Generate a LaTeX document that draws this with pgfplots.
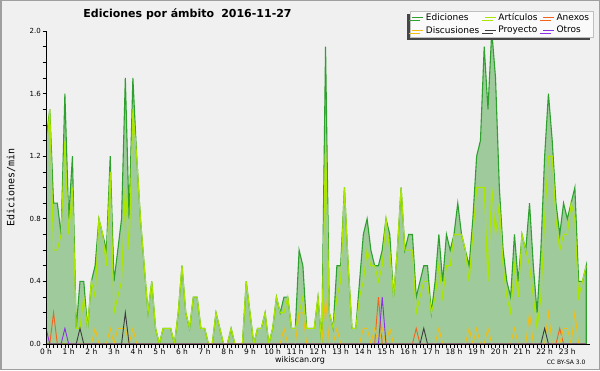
\documentclass[border=0pt]{standalone}
\usepackage{pgfplots}
\pgfplotsset{compat=1.18}
\usepackage{pgfplotstable}
\usepackage{fontspec}
\setmainfont{DejaVu Sans}
\newfontfamily\monofont{DejaVu Sans Mono}
\usetikzlibrary{shadows}
\definecolor{figbg}{RGB}{240,240,240}
\definecolor{plotbg}{RGB}{236,238,240}
\definecolor{gridc}{RGB}{200,200,200}
\definecolor{edfill}{RGB}{80,166,72}
\definecolor{edline}{RGB}{45,160,45}
\definecolor{artline}{RGB}{170,230,0}
\definecolor{discol}{RGB}{240,190,20}
\definecolor{anxcol}{RGB}{240,100,30}
\definecolor{procol}{RGB}{60,60,60}
\definecolor{otrcol}{RGB}{140,50,230}
\pgfplotsset{
  layers/linesontop/.define layer set={
    axis background,axis grid,main,axis ticks,axis lines,axis tick labels,axis descriptions,axis foreground
  }{/pgfplots/layers/standard},
}
\pgfplotstableread{
i ed art anx dis pro otr
0 1.3 1.2 0 0 0 0.1
1 1.5 1.5 0 0 0 0
2 0.9 0.6 0.2 0 0 0
3 0.9 0.6 0 0 0 0
4 0.7 0.7 0 0 0 0
5 1.6 1.3 0 0 0 0.1
6 0.8 0.7 0 0 0 0
7 1.2 1.0 0 0 0 0
8 0.1 0.1 0 0 0 0
9 0.4 0.1 0 0 0.1 0
10 0.4 0.3 0 0 0 0
11 0.1 0.1 0 0 0 0
12 0.4 0.4 0 0 0 0
13 0.5 0.3 0 0.1 0 0
14 0.8 0.8 0 0 0 0
15 0.7 0.7 0 0 0 0
16 0.6 0.5 0 0 0 0
17 1.2 1.1 0 0.1 0 0
18 0.4 0.2 0 0 0 0
19 0.6 0.3 0 0.1 0 0
20 0.8 0.4 0 0.1 0 0
21 1.7 1.0 0 0.1 0.2 0
22 0.8 0.6 0 0 0 0
23 1.7 1.5 0 0.1 0 0
24 1.2 1.2 0 0 0 0
25 0.8 0.8 0 0 0 0
26 0.5 0.5 0 0 0 0
27 0.2 0.2 0 0 0 0
28 0.4 0.4 0 0 0 0
29 0.1 0.1 0 0 0 0
30 0 0 0 0 0 0
31 0.1 0.1 0 0 0 0
32 0.1 0.1 0 0 0 0
33 0.1 0.1 0 0 0 0
34 0 0 0 0 0 0
35 0.2 0.2 0 0 0 0
36 0.5 0.5 0 0 0 0
37 0.2 0.2 0 0 0 0
38 0.1 0.1 0 0 0 0
39 0.3 0.3 0 0 0 0
40 0.3 0.3 0 0 0 0
41 0.1 0.1 0 0 0 0
42 0.1 0.1 0 0 0 0
43 0 0 0 0 0 0
44 0 0 0 0 0 0
45 0.2 0.2 0 0 0 0
46 0.1 0.1 0 0 0 0
47 0 0 0 0 0 0
48 0 0 0 0 0 0
49 0.1 0.1 0 0 0 0
50 0 0 0 0 0 0
51 0 0 0 0 0 0
52 0 0 0 0 0 0
53 0.4 0.4 0 0 0 0
54 0.2 0.2 0 0 0 0
55 0 0 0 0 0 0
56 0.1 0.1 0 0 0 0
57 0.1 0.1 0 0 0 0
58 0.2 0.2 0 0 0 0
59 0 0 0 0 0 0
60 0.1 0.1 0 0 0 0
61 0.3 0.3 0 0 0 0
62 0.2 0.2 0 0 0 0
63 0.3 0.2 0 0.1 0 0
64 0.3 0.3 0 0 0 0
65 0.1 0.1 0 0 0 0
66 0.1 0.1 0 0 0 0
67 0.6 0.2 0 0.2 0 0
68 0.5 0.3 0 0.2 0 0
69 0.1 0.1 0 0 0 0
70 0.1 0.1 0 0 0 0
71 0.1 0.1 0 0 0 0
72 0.3 0.3 0 0 0 0
73 0 0 0 0 0 0
74 1.9 1.3 0 0.3 0 0
75 0.2 0.2 0 0 0 0
76 0.1 0.1 0 0 0 0
77 0.5 0.3 0 0.1 0 0
78 0.5 0.4 0 0 0 0
79 1.0 1.0 0 0 0 0
80 0.5 0.5 0 0 0 0
81 0.1 0.1 0 0 0 0
82 0.1 0.1 0 0 0 0
83 0.4 0.3 0 0 0 0
84 0.7 0.4 0 0.1 0 0
85 0.8 0.6 0 0.1 0 0
86 0.6 0.5 0 0 0 0
87 0.5 0.5 0 0.1 0 0
88 0.5 0.4 0.3 0 0 0
89 0.6 0.5 0 0.1 0 0.3
90 0.8 0.8 0 0 0 0
91 0.7 0.6 0 0.1 0 0
92 0.3 0.3 0 0 0 0
93 0.6 0.6 0 0 0 0
94 1.0 1.0 0 0 0 0
95 0.6 0.6 0 0 0 0
96 0.7 0.6 0 0 0 0
97 0.7 0.6 0 0 0 0
98 0.3 0.2 0.1 0 0 0
99 0.4 0.3 0 0 0 0
100 0.5 0.4 0 0 0.1 0
101 0.5 0.4 0 0 0 0
102 0.2 0.2 0 0 0 0
103 0.4 0.3 0 0 0 0
104 0.7 0.5 0 0.1 0 0
105 0.4 0.3 0 0 0 0
106 0.7 0.5 0 0 0 0
107 0.6 0.5 0 0 0 0
108 0.7 0.7 0 0 0 0
109 0.9 0.7 0 0 0 0
110 0.7 0.7 0 0 0 0
111 0.6 0.6 0 0 0 0
112 0.5 0.4 0 0.1 0 0
113 0.8 0.7 0 0 0 0
114 1.2 1.0 0 0.1 0 0
115 1.3 1.0 0 0 0 0
116 1.9 1.0 0 0 0 0
117 1.5 0.4 0 0.1 0 0
118 2.0 1.0 0 0 0 0
119 1.7 0.7 0 0 0 0
120 1.0 0.9 0 0 0 0
121 0.6 0.5 0 0 0 0
122 0.4 0.3 0 0 0 0
123 0.3 0.2 0 0 0 0
124 0.7 0.5 0 0.1 0 0
125 0.4 0.3 0 0 0 0
126 0.7 0.7 0 0 0 0
127 0.6 0.6 0 0 0 0
128 0.9 0.5 0 0.2 0 0
129 0.5 0.3 0 0 0 0
130 0.2 0.1 0 0 0 0
131 0.6 0.3 0 0 0 0
132 1.2 0.8 0 0 0.1 0
133 1.6 1.2 0 0.2 0 0
134 1.3 1.2 0 0 0 0
135 0.9 0.8 0 0 0 0
136 0.7 0.6 0.1 0 0 0
137 0.9 0.7 0 0.1 0 0
138 0.8 0.7 0 0.1 0 0
139 0.9 0.9 0 0 0 0
140 1.0 0.8 0 0.2 0 0
141 0.4 0.3 0 0 0 0
142 0.4 0.4 0 0 0 0
143 0.5 0.5 0 0 0 0
}\data
\begin{document}
\begin{tikzpicture}[x=1pt,y=1pt]
\fill[figbg] (0,0) rectangle (600,370);
\draw[gray!75, line width=1.5pt] (0.75,0.75) rectangle (599.25,369.25);
\begin{axis}[
  set layers=linesontop,
  at={(46pt,26pt)}, anchor=south west,
  scale only axis, width=544pt, height=313pt,
  xmin=0, xmax=24, ymin=0, ymax=2,
  axis lines=left,
  axis line style={-, black, line width=0.8pt},
  axis background/.style={fill=plotbg},
  tick align=outside,
  major tick length=3.5pt, minor tick length=3.5pt,
  tick style={black, line width=0.7pt},
  xtick={0,1,2,3,4,5,6,7,8,9,10,11,12,13,14,15,16,17,18,19,20,21,22,23},
  xticklabels={0 h,1 h,2 h,3 h,4 h,5 h,6 h,7 h,8 h,9 h,10 h,11 h,12 h,13 h,14 h,15 h,16 h,17 h,18 h,19 h,20 h,21 h,22 h,23 h},
  minor x tick num=5,
  ytick={0,0.4,0.8,1.2,1.6,2.0},
  minor y tick num=3,
  /pgf/number format/assume math mode=true,
  yticklabel style={/pgf/number format/fixed, /pgf/number format/fixed zerofill, /pgf/number format/precision=1, font=\fontsize{7}{7}\selectfont, inner sep=1.5pt},
  xticklabel style={font=\fontsize{7.5}{7.5}\selectfont, inner sep=1pt},
  ymajorgrids, grid style={gridc, line width=0.8pt},
  legend columns=3,
  legend cell align=left,
  legend image code/.code={\draw[#1, fill=none] (0pt,0pt) -- (11pt,0pt);},
  legend style={at={(1.0055,1.064)}, anchor=north east, draw=gray!50, fill=white!96!gray,
    outer sep=0pt,
    font=\fontsize{9}{9}\selectfont, inner xsep=2pt, inner ysep=0.5pt,
    /tikz/every even column/.append style={column sep=3pt},
    drop shadow={shadow xshift=-3pt, shadow yshift=-3pt, fill=gray!55!black, opacity=1}},
]
\addplot[draw=edline, line width=1.1pt, fill=edfill, fill opacity=0.5, draw opacity=1]
  table[x expr=\thisrow{i}/6, y=ed] {\data} \closedcycle;
\addlegendentry{Ediciones}
\addplot[draw=artline, line width=1.1pt] table[x expr=\thisrow{i}/6, y=art] {\data};
\addlegendentry{Artículos}
\addplot[draw=anxcol, line width=0.9pt] table[x expr=\thisrow{i}/6, y=anx] {\data};
\addlegendentry{Anexos}
\addplot[draw=discol, line width=0.9pt] table[x expr=\thisrow{i}/6, y=dis] {\data};
\addlegendentry{Discusiones}
\addplot[draw=procol, line width=0.9pt] table[x expr=\thisrow{i}/6, y=pro] {\data};
\addlegendentry{Proyecto}
\addplot[draw=otrcol, line width=0.9pt] table[x expr=\thisrow{i}/6, y=otr] {\data};
\addlegendentry{Otros}
\end{axis}
\node[font=\bfseries\fontsize{11}{11}\selectfont, anchor=base] at (187.5,352.5) {Ediciones por ámbito\hspace{0.65em}2016-11-27};
\node[rotate=90, font=\monofont\fontsize{10}{10}\selectfont] at (11,182.5) {Ediciones/min};
\node[font=\fontsize{8}{8}\selectfont] at (300,10) {wikiscan.org};
\node[font=\fontsize{6}{6}\selectfont, anchor=east] at (589,7.5) {CC BY-SA 3.0};
\end{tikzpicture}
\end{document}
